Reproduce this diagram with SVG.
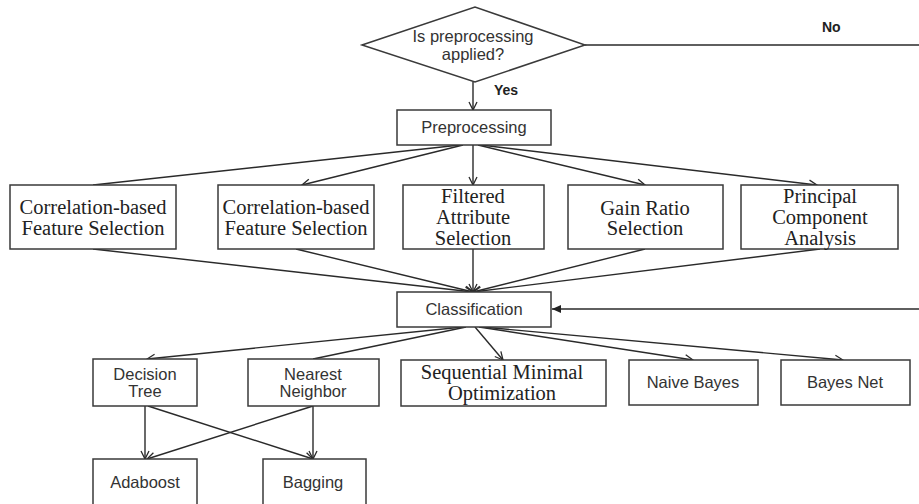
<svg xmlns="http://www.w3.org/2000/svg" width="919" height="504" viewBox="0 0 919 504">
<style>
.box{fill:#fff;stroke:#3a3a3a;stroke-width:1.5}
.ln{fill:none;stroke:#2a2a2a;stroke-width:1.4}
.sans{font-family:"Liberation Sans",Arial,sans-serif;font-size:16.5px;fill:#333;text-anchor:middle;dominant-baseline:central}
.serif{font-family:"Liberation Serif","Times New Roman",serif;font-size:20.5px;fill:#222;text-anchor:middle;dominant-baseline:central}
.bold{font-family:"Liberation Sans",Arial,sans-serif;font-size:14px;font-weight:bold;fill:#222;dominant-baseline:central}
</style>
<defs>
<marker id="open" markerUnits="userSpaceOnUse" markerWidth="12" markerHeight="12" refX="9" refY="5" orient="auto">
<path d="M1,1 L9,5 L1,9" fill="none" stroke="#2a2a2a" stroke-width="1.3"/>
</marker>
<marker id="filled" markerUnits="userSpaceOnUse" markerWidth="12" markerHeight="12" refX="9" refY="5" orient="auto">
<path d="M0,1 L9,5 L0,9 Z" fill="#222"/>
</marker>
</defs>
<rect width="919" height="504" fill="#fff"/>
<g id="connectors">
<line class="ln" x1="585" y1="45" x2="919" y2="45"/>
<line class="ln" x1="473" y1="82" x2="473" y2="110" marker-end="url(#open)"/>
<line class="ln" x1="460" y1="145" x2="93" y2="185"/>
<line class="ln" x1="463" y1="145" x2="302" y2="185" marker-end="url(#open)"/>
<line class="ln" x1="473" y1="145" x2="473" y2="185" marker-end="url(#open)"/>
<line class="ln" x1="478" y1="145" x2="645" y2="185" marker-end="url(#open)"/>
<line class="ln" x1="481" y1="145" x2="817" y2="185" marker-end="url(#open)"/>
<line class="ln" x1="93" y1="249" x2="473" y2="292" marker-end="url(#open)"/>
<line class="ln" x1="296" y1="249" x2="473" y2="292" marker-end="url(#open)"/>
<line class="ln" x1="473" y1="249" x2="473" y2="292" marker-end="url(#open)"/>
<line class="ln" x1="645" y1="249" x2="473" y2="292" marker-end="url(#open)"/>
<line class="ln" x1="820" y1="249" x2="473" y2="292" marker-end="url(#open)"/>
<line class="ln" x1="919" y1="309" x2="552" y2="309" marker-end="url(#filled)"/>
<line class="ln" x1="463" y1="327" x2="147" y2="359" marker-end="url(#open)"/>
<line class="ln" x1="466" y1="327" x2="313" y2="359"/>
<line class="ln" x1="475" y1="327" x2="503" y2="360" marker-end="url(#open)"/>
<line class="ln" x1="479" y1="327" x2="693" y2="360" marker-end="url(#open)"/>
<line class="ln" x1="482" y1="327" x2="843" y2="360" marker-end="url(#open)"/>
<line class="ln" x1="145" y1="406" x2="145" y2="459" marker-end="url(#open)"/>
<line class="ln" x1="148" y1="406" x2="313" y2="459" marker-end="url(#open)"/>
<line class="ln" x1="313" y1="406" x2="313" y2="459" marker-end="url(#open)"/>
<line class="ln" x1="313" y1="406" x2="147" y2="459" marker-end="url(#open)"/>
</g>
<g id="decision">
<polygon class="box" points="362,45 475,7 585,45 475,82"/>
<text class="sans" x="473" y="36">Is preprocessing</text>
<text class="sans" x="473" y="54">applied?</text>
</g>
<g id="label-yes"><text class="bold" x="494" y="90">Yes</text></g>
<g id="label-no"><text class="bold" x="822" y="27">No</text></g>
<g id="preprocessing">
<rect class="box" x="397" y="110" width="154" height="35"/>
<text class="sans" x="474" y="127">Preprocessing</text>
</g>
<g id="cfs1">
<rect class="box" x="10" y="185" width="166" height="64"/>
<text class="serif" x="93" y="207">Correlation-based</text>
<text class="serif" x="93" y="228">Feature Selection</text>
</g>
<g id="cfs2">
<rect class="box" x="218" y="185" width="156" height="64"/>
<text class="serif" x="296" y="207">Correlation-based</text>
<text class="serif" x="296" y="228">Feature Selection</text>
</g>
<g id="filtered">
<rect class="box" x="403" y="185" width="141" height="64"/>
<text class="serif" x="473" y="196">Filtered</text>
<text class="serif" x="473" y="217">Attribute</text>
<text class="serif" x="473" y="238">Selection</text>
</g>
<g id="gainratio">
<rect class="box" x="568" y="185" width="155" height="64"/>
<text class="serif" x="645" y="208">Gain Ratio</text>
<text class="serif" x="645" y="228">Selection</text>
</g>
<g id="pca">
<rect class="box" x="741" y="185" width="157" height="64"/>
<text class="serif" x="820" y="196">Principal</text>
<text class="serif" x="820" y="217">Component</text>
<text class="serif" x="820" y="238">Analysis</text>
</g>
<g id="classification">
<rect class="box" x="397" y="292" width="154" height="35"/>
<text class="sans" x="474" y="309">Classification</text>
</g>
<g id="decisiontree">
<rect class="box" x="93" y="359" width="104" height="47"/>
<text class="sans" x="145" y="374">Decision</text>
<text class="sans" x="145" y="391">Tree</text>
</g>
<g id="nearestneighbor">
<rect class="box" x="248" y="359" width="131" height="47"/>
<text class="sans" x="313" y="374">Nearest</text>
<text class="sans" x="313" y="391">Neighbor</text>
</g>
<g id="smo">
<rect class="box" x="401" y="360" width="205" height="46"/>
<text class="serif" x="502" y="372">Sequential Minimal</text>
<text class="serif" x="502" y="393">Optimization</text>
</g>
<g id="naivebayes">
<rect class="box" x="629" y="360" width="129" height="45"/>
<text class="sans" x="693" y="382">Naive Bayes</text>
</g>
<g id="bayesnet">
<rect class="box" x="781" y="360" width="129" height="45"/>
<text class="sans" x="845" y="382">Bayes Net</text>
</g>
<g id="adaboost">
<rect class="box" x="93" y="459" width="104" height="47"/>
<text class="sans" x="145" y="482">Adaboost</text>
</g>
<g id="bagging">
<rect class="box" x="263" y="459" width="103" height="47"/>
<text class="sans" x="313" y="482">Bagging</text>
</g>
</svg>
